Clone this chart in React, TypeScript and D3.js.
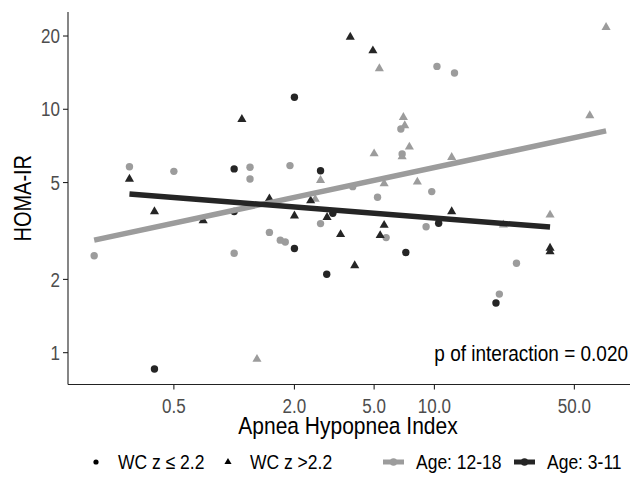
import React from 'react';
import * as d3 from 'd3';

// Age 12-18 (grey), WC z <= 2.2 (circles)
const olderLow: [number, number][] = [
  [0.3, 5.81], [0.5, 5.56], [1.2, 5.78], [1.2, 5.17], [1.9, 5.87], [10.3, 15.0],
  [6.8, 8.3], [6.9, 6.55], [3.91, 4.81], [9.7, 4.59], [5.2, 4.35], [0.2, 2.5],
  [1.0, 2.56], [2.7, 3.39], [9.09, 3.29], [1.5, 3.12], [5.74, 2.97], [1.7, 2.9],
  [1.8, 2.85], [12.6, 14.1], [25.7, 2.33], [21.1, 1.74],
];
// Age 12-18 (grey), WC z > 2.2 (triangles)
const olderHigh: [number, number][] = [
  [5.31, 14.7], [7.0, 9.27], [7.11, 8.57], [7.5, 7.0], [5.0, 6.57], [6.9, 6.39],
  [2.7, 5.11], [5.61, 4.95], [8.22, 5.03], [12.2, 6.35], [72, 21.7], [59.7, 9.42],
  [1.3, 0.94], [2.54, 4.27], [37.8, 3.68], [22.1, 3.35],
];
// Age 3-11 (black), WC z <= 2.2 (circles)
const youngerLow: [number, number][] = [
  [1.0, 5.69], [2.0, 11.2], [2.7, 5.59], [3.11, 3.74], [10.5, 3.4], [2.0, 2.68],
  [7.2, 2.58], [2.9, 2.1], [0.4, 0.857], [20.3, 1.6], [1.0, 3.8],
];
// Age 3-11 (black), WC z > 2.2 (triangles)
const youngerHigh: [number, number][] = [
  [1.093, 9.1], [0.3, 5.17], [3.8, 19.8], [4.93, 17.4], [1.5, 4.29], [2.41, 4.21],
  [0.4, 3.8], [0.7, 3.49], [2.0, 3.65], [2.91, 3.6], [5.61, 3.34], [3.4, 3.06],
  [5.36, 3.03], [4.0, 2.28], [12.2, 3.8], [37.8, 2.69], [37.8, 2.6],
];

// fitted lines (end points)
const olderFit: [number, number][] = [[0.2, 2.9], [72, 8.15]];
const youngerFit: [number, number][] = [[0.3, 4.49], [37.8, 3.28]];

const xTicks = [0.5, 2, 5, 10, 50];
const yTicks = [1, 2, 5, 10, 20];

const GREY = '#9c9c9c';
const DARK = '#252525';
const FONT = '"Liberation Sans", Arial, Helvetica, sans-serif';
const STRETCH = 1.17; // glyphs in the source are a little taller than usual

// text placed at (x, y) and stretched vertically
const T = ({ x, y, rotate = 0, anchor = 'start', size, fill = '#000', children }: any) => (
  <text
    transform={`translate(${x},${y}) rotate(${rotate}) scale(1,${STRETCH})`}
    textAnchor={anchor}
    fontSize={size}
    fill={fill}
  >
    {children}
  </text>
);

export default function App() {
  const width = 630;
  const height = 489;
  const left = 68;
  const bottom = 384.5;

  const x = d3.scaleLog().domain([0.148, 97]).range([left, 632]);
  const y = d3.scaleLog().domain([0.74, 25.1]).range([bottom, 12]);

  const tri = d3.symbol().type(d3.symbolTriangle).size(36);
  const line = d3.line<[number, number]>().x((d) => x(d[0])).y((d) => y(d[1]));

  const circles = (pts: [number, number][], fill: string, key: string) =>
    pts.map((d, i) => <circle key={`${key}-${i}`} cx={x(d[0])} cy={y(d[1])} r={3.7} fill={fill} />);
  const triangles = (pts: [number, number][], fill: string, key: string) =>
    pts.map((d, i) => (
      <path key={`${key}-${i}`} d={tri()!} transform={`translate(${x(d[0])},${y(d[1])})`} fill={fill} />
    ));

  const legendY = 462;
  const legendBase = legendY + 6.2 * STRETCH;

  return (
    <svg
      width={width}
      height={height}
      style={{ position: 'absolute', left: 0, top: 0, background: '#fff', fontFamily: FONT }}
    >
      <g key="points">
        {circles(olderLow, GREY, 'ol')}
        {triangles(olderHigh, GREY, 'oh')}
        {circles(youngerLow, DARK, 'yl')}
        {triangles(youngerHigh, DARK, 'yh')}
      </g>
      <g key="fits" fill="none" strokeWidth={5.5}>
        <path d={line(olderFit)!} stroke={GREY} />
        <path d={line(youngerFit)!} stroke={DARK} />
      </g>

      <g key="axes" stroke="#222" strokeWidth={1.1}>
        <line x1={left} x2={left} y1={12} y2={bottom} />
        <line x1={left} x2={632} y1={bottom} y2={bottom} />
        {xTicks.map((t) => (
          <line key={`xt-${t}`} x1={x(t)} x2={x(t)} y1={bottom} y2={bottom + 5} />
        ))}
        {yTicks.map((t) => (
          <line key={`yt-${t}`} x1={left - 5} x2={left} y1={y(t)} y2={y(t)} />
        ))}
      </g>
      <g key="tick-labels">
        {xTicks.map((t) => (
          <T key={`xl-${t}`} x={x(t)} y={bottom + 28} anchor="middle" size={17} fill="#4d4d4d">
            {d3.format('.1f')(t)}
          </T>
        ))}
        {yTicks.map((t) => (
          <T key={`yl-${t}`} x={left - 8} y={y(t) + 6.1 * STRETCH} anchor="end" size={17} fill="#4d4d4d">
            {t}
          </T>
        ))}
      </g>
      <T x={(left + 632) / 2 - 2} y={434} anchor="middle" size={21}>
        Apnea Hypopnea Index
      </T>
      <T x={31} y={(12 + bottom) / 2} rotate={-90} anchor="middle" size={20}>
        HOMA-IR
      </T>
      <T x={628} y={361} anchor="end" size={19}>
        p of interaction = 0.020
      </T>

      <g key="legend">
        <circle cx={96} cy={legendY} r={2.6} fill="#000" />
        <T x={118} y={legendBase} size={17.5}>WC z ≤ 2.2</T>
        <path d={d3.symbol().type(d3.symbolTriangle).size(22)()!} transform={`translate(228,${legendY})`} fill="#000" />
        <T x={250} y={legendBase} size={17.5}>WC z &gt;2.2</T>
        <line x1={383} x2={404} y1={legendY} y2={legendY} stroke={GREY} strokeWidth={5} />
        <circle cx={393.5} cy={legendY} r={3.7} fill={GREY} />
        <T x={416} y={legendBase} size={17.5}>Age: 12-18</T>
        <line x1={514} x2={535} y1={legendY} y2={legendY} stroke={DARK} strokeWidth={5} />
        <circle cx={524.5} cy={legendY} r={3.7} fill={DARK} />
        <T x={547} y={legendBase} size={17.5}>Age: 3-11</T>
      </g>
    </svg>
  );
}
